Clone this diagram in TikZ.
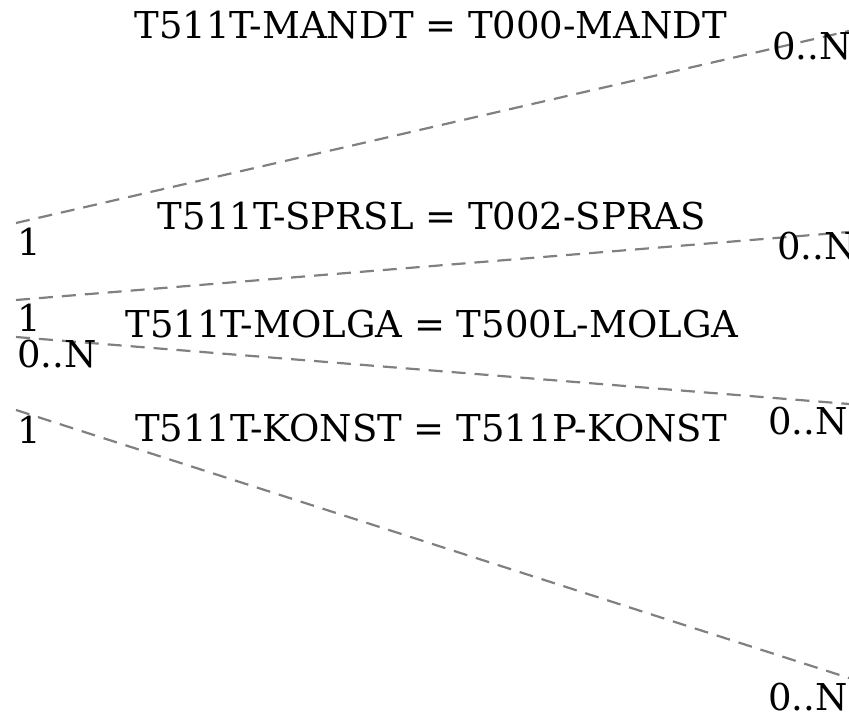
\documentclass[tikz,border=0pt]{standalone}
\usepackage{fontspec}
\setmainfont{DejaVu Serif}
\usetikzlibrary{calc}

\tikzset{
  rel/.style={draw=gray, line width=2.2pt, dash pattern=on 14pt off 9pt},
  lbl/.style={inner sep=0pt, anchor=base, font=\fontsize{37}{42}\selectfont},
  card/.style={inner sep=0pt, anchor=base west, font=\fontsize{37}{42}\selectfont}
}

\begin{document}
\begin{tikzpicture}[x=1pt,y=-1pt]
  \useasboundingbox (0,0) rectangle (849,715);
  % left ends (T511T) and right ends
  \coordinate (mandtL) at (16,223);  \coordinate (mandtR) at (849,31);
  \coordinate (sprslL) at (16,300);  \coordinate (sprslR) at (849,232);
  \coordinate (molgaL) at (16,337);  \coordinate (molgaR) at (849,404);
  \coordinate (konstL) at (16,410);  \coordinate (konstR) at (849,678);

  \draw[rel] (mandtL) -- (mandtR);
  \draw[rel] (sprslL) -- (sprslR);
  \draw[rel] (molgaL) -- (molgaR);
  \draw[rel] (konstL) -- (konstR);

  \node[lbl] (mandt) at (431,38) {T511T-MANDT = T000-MANDT};
  \node[lbl] (sprsl) at (432,229) {T511T-SPRSL = T002-SPRAS};
  \node[lbl] (molga) at (432,337) {T511T-MOLGA = T500L-MOLGA};
  \node[lbl] (konst) at (431,441) {T511T-KONST = T511P-KONST};

  \node[card] (c1l) at (17,255) {1};
  \node[card] (c2l) at (17,331) {1};
  \node[card] (c3l) at (17,367) {0..N};
  \node[card] (c4l) at (17,443) {1};
  \node[card] (c1r) at (772,59) {0..N};
  \node[card] (c2r) at (777,259) {0..N};
  \node[card] (c3r) at (768,434) {0..N};
  \node[card] (c4r) at (768,710) {0..N};
\end{tikzpicture}
\end{document}
